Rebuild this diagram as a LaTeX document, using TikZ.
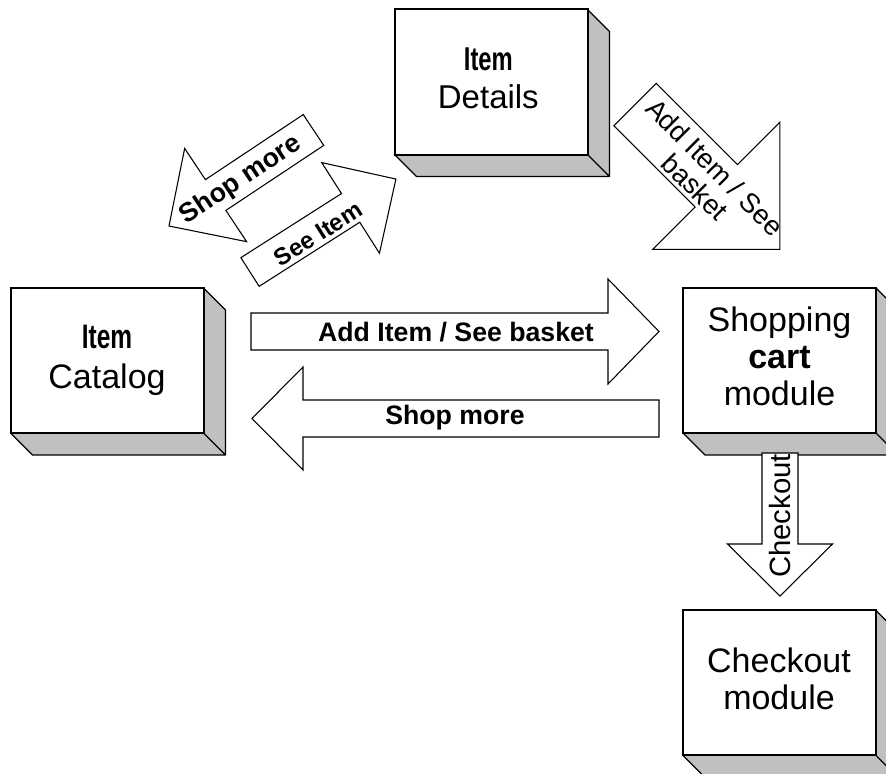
\documentclass[tikz,border=0pt]{standalone}
\usepackage{fontspec}
\setmainfont{Liberation Sans}
\usetikzlibrary{positioning,backgrounds}

\definecolor{sidegray}{RGB}{192,192,192}

\tikzset{
  box/.style={draw=black, line width=1.5pt, fill=white, minimum width=144.75pt,
    minimum height=108.75pt, inner sep=0pt, outer sep=0pt},
  boxtext/.style={align=center, inner sep=0pt, font=\fontsize{25.5}{27.5}\selectfont},
  boxside/.style={draw=black, line width=1pt, fill=sidegray, line join=round},
  arrowline/.style={draw=black, line width=0.8pt, fill=white, line join=miter},
  flowlabel/.style={font=\bfseries\fontsize{20}{22}\selectfont, inner sep=0pt},
  thinlabel/.style={font=\fontsize{20.5}{21}\selectfont, inner sep=0pt, align=center},
  % fat arrow: length / shaft half width / head half width / head length
  pics/fatarrow/.style args={#1/#2/#3/#4}{code={
    \draw[arrowline] (0,-#2) -- (#1-#4,-#2) -- (#1-#4,-#3) -- (#1,0)
      -- (#1-#4,#3) -- (#1-#4,#2) -- (0,#2) -- cycle;
  }}
}
\newcommand{\narrowword}[1]{\scalebox{0.72}[1]{\bfseries #1}}

\begin{document}
\begin{tikzpicture}[x=0.75pt, y=-0.75pt]
  \useasboundingbox (0,0) rectangle (886,774);
  \clip (0,0) rectangle (886,774);

  % the four modules (front faces)
  \node[box] (details) at (491,82) {};
  \node[box] (catalog) at (107,360.5) {};
  \node[box] (cart) at (779.5,360.5) {};
  \node[box] (checkout) at (779,682.5) {};

  % grey depth of every module
  \begin{scope}[on background layer]
    \foreach \b in {details,catalog,cart,checkout}{
      \draw[boxside] (\b.north east) -- ++(22,22) -- ([shift={(22,22)}]\b.south east)
        -- ([shift={(22,22)}]\b.south west) -- (\b.south west) -- (\b.south east) -- cycle
        (\b.south east) -- ++(22,22);
    }
  \end{scope}

  % module names
  \node[boxtext, font=\fontsize{24.75}{28.5}\selectfont] (detailslbl) at ([xshift=-2pt,yshift=2.5pt]details.center) {\narrowword{Item}\\Details};
  \node[boxtext, font=\fontsize{25.5}{30}\selectfont] (cataloglbl) at (catalog.center) {\narrowword{Item}\\Catalog};
  \node[boxtext] (cartlbl) at ([yshift=3pt]cart.center) {Shopping\\\textbf{cart}\\module};
  \node[boxtext, font=\fontsize{25.5}{27.75}\selectfont] (checkoutlbl) at ([yshift=3pt]checkout.center) {Checkout\\module};

  % block arrows
  \pic at (251,331.5) {fatarrow=408/18.5/52.5/51};
  \pic[rotate=180] at (659,418.5) {fatarrow=407/18.5/51.5/51};
  \pic[rotate=-90] at (780,453) {fatarrow=143/18/52.5/52};
  \pic[rotate=-45] at (635,104.5) {fatarrow=205/30/90/90};
  \pic[rotate=213.6] at (313.5,130) {fatarrow=173.5/18.5/56/56};
  \pic[rotate=32.5] at (250,272) {fatarrow=173/17/53.7/53.7};

  % arrow texts
  \node[flowlabel] (addlbl) at (456,332) {Add Item / See basket};
  \node[flowlabel] (shoplbl) at (455,418) {Shop more};
  \node[flowlabel, rotate=33.6] (shopdiag) at (241,180) {Shop more};
  \node[flowlabel, font=\bfseries\fontsize{18}{20}\selectfont, rotate=32.5] (seelbl) at (318,234) {See Item};
  \node[thinlabel, rotate=-45] (adddiag) at (705,177) {Add Item / See\\basket};
  \node[thinlabel, font=\fontsize{22}{24}\selectfont, rotate=90] (checklbl) at (780,516) {Checkout};

\end{tikzpicture}
\end{document}
